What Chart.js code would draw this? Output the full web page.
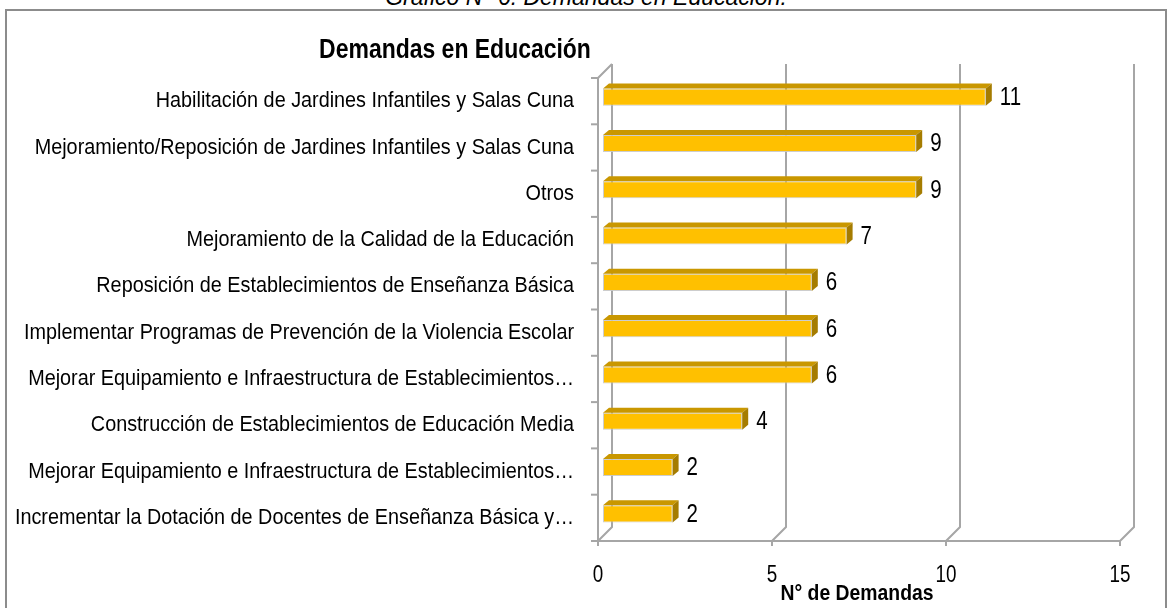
<!DOCTYPE html>
<html>
<head>
<meta charset="utf-8">
<script src="https://cdn.jsdelivr.net/npm/chart.js@4.4.1/dist/chart.umd.min.js"></script>
<style>
  html, body { margin: 0; padding: 0; background: #fff; overflow: hidden; }
  #wrap { position: relative; width: 1172px; height: 608px; }
  #caption {
    position: absolute; left: 0; width: 1172px; top: -16px; line-height: 24px;
    text-align: center; font: italic 23px "Liberation Sans", Arial, sans-serif; color: #000;
  }
  #box {
    position: absolute; left: 5px; top: 9px; width: 1162px; height: 620px;
    border: 2px solid #8c8c8c; box-sizing: border-box;
  }
  canvas { position: absolute; left: 0; top: 0; }
</style>
</head>
<body>
<div id="wrap">
  <div id="caption">Gráfico N° 6: Demandas en Educación.</div>
  <div id="box"></div>
  <canvas id="chart" width="1172" height="608"></canvas>
</div>
<script>
const chartTitle = 'Demandas en Educación';
const axisTitle = 'N° de Demandas';
const categories = [
  'Habilitación de Jardines Infantiles y Salas Cuna',
  'Mejoramiento/Reposición de Jardines Infantiles y Salas Cuna',
  'Otros',
  'Mejoramiento de la Calidad de la Educación',
  'Reposición de Establecimientos de Enseñanza Básica',
  'Implementar Programas de Prevención de la Violencia Escolar',
  'Mejorar Equipamiento e Infraestructura de Establecimientos…',
  'Construcción de Establecimientos de Educación Media',
  'Mejorar Equipamiento e Infraestructura de Establecimientos…',
  'Incrementar la Dotación de Docentes de Enseñanza Básica y…'
];
const demandas = [11, 9, 9, 7, 6, 6, 6, 4, 2, 2];
const xTicks = [0, 5, 10, 15];

// no narrow font installed, so Arial-metric text is squeezed horizontally
const FONT = '"Liberation Sans", Arial, sans-serif';
const WALL = 14;           // depth of the back wall
const BAR_SHIFT = [5, -4]; // bars sit a little inside the wall
const BAR_DEPTH = [6, -5];

function narrowText(ctx, text, x, y, font, align, baseline, squeeze) {
  ctx.save();
  ctx.font = font;
  ctx.textAlign = align;
  ctx.textBaseline = baseline;
  ctx.fillStyle = '#000';
  ctx.translate(x, y);
  ctx.scale(squeeze || 0.82, 1);
  ctx.fillText(text, 0, 0);
  ctx.restore();
}

const frame3d = {
  id: 'frame3d',
  beforeDatasetsDraw(chart) {
    const { ctx, chartArea: a, scales: { x, y } } = chart;
    ctx.save();
    ctx.strokeStyle = '#a6a6a6';
    ctx.lineWidth = 2;
    xTicks.forEach(v => {
      const px = x.getPixelForValue(v);
      ctx.beginPath();
      ctx.moveTo(px, a.bottom);
      ctx.lineTo(px + WALL, a.bottom - WALL);
      ctx.lineTo(px + WALL, a.top - WALL);
      ctx.stroke();
      ctx.beginPath();
      ctx.moveTo(px, a.bottom);
      ctx.lineTo(px, a.bottom + 5);
      ctx.stroke();
    });
    ctx.beginPath();
    ctx.moveTo(a.left + WALL, a.top - WALL);
    ctx.lineTo(a.left, a.top);
    ctx.lineTo(a.left, a.bottom);
    ctx.lineTo(a.right, a.bottom);
    ctx.stroke();
    const n = categories.length;
    for (let i = 0; i <= n; i++) {
      const yy = a.top + i * a.height / n;
      ctx.beginPath();
      ctx.moveTo(a.left - 7, yy);
      ctx.lineTo(a.left, yy);
      ctx.stroke();
    }
    ctx.restore();

    categories.forEach((c, i) => {
      narrowText(ctx, c, a.left - 24, y.getPixelForTick(i), '22px ' + FONT, 'right', 'middle', 0.9);
    });
    xTicks.forEach(v => {
      narrowText(ctx, String(v), x.getPixelForValue(v), 582, '23px ' + FONT, 'center', 'alphabetic');
    });
    narrowText(ctx, chartTitle, 455, 58, 'bold 28px ' + FONT, 'center', 'alphabetic');
    narrowText(ctx, axisTitle, (a.left + a.right) / 2 - 2, 600, 'bold 22px ' + FONT, 'center', 'alphabetic', 0.88);
  },
  beforeDatasetDraw(chart) {
    chart.ctx.save();
    chart.ctx.translate(BAR_SHIFT[0], BAR_SHIFT[1]);
  },
  afterDatasetDraw(chart, args) {
    const ctx = chart.ctx;
    const [dx, dy] = BAR_DEPTH;
    args.meta.data.forEach((bar, i) => {
      const { x, y, base, height } = bar.getProps(['x', 'y', 'base', 'height'], true);
      const top = y - height / 2, bot = y + height / 2;
      ctx.fillStyle = '#c99700';
      ctx.beginPath();
      ctx.moveTo(base, top);
      ctx.lineTo(base + dx, top + dy);
      ctx.lineTo(x + dx, top + dy);
      ctx.lineTo(x, top);
      ctx.closePath();
      ctx.fill();
      ctx.fillStyle = '#a57c00';
      ctx.beginPath();
      ctx.moveTo(x, top);
      ctx.lineTo(x + dx, top + dy);
      ctx.lineTo(x + dx, bot + dy);
      ctx.lineTo(x, bot);
      ctx.closePath();
      ctx.fill();
      narrowText(ctx, String(demandas[i]), x + dx + 8, y + 1, '25px ' + FONT, 'left', 'middle');
    });
    ctx.restore();
  }
};

new Chart(document.getElementById('chart'), {
  type: 'bar',
  data: {
    labels: categories,
    datasets: [{
      label: axisTitle,
      data: demandas,
      backgroundColor: '#ffc000',
      borderColor: 'rgba(200,200,200,0.9)',
      borderWidth: 1,
      borderSkipped: false,
      categoryPercentage: 1,
      barPercentage: 0.37
    }]
  },
  options: {
    indexAxis: 'y',
    responsive: false,
    animation: false,
    layout: { padding: { top: 78, right: 52, bottom: 67, left: 0 } },
    plugins: { legend: { display: false }, title: { display: false }, tooltip: { enabled: false } },
    scales: {
      x: {
        min: 0, max: 15,
        ticks: { display: false, stepSize: 5 },
        grid: { display: false, drawTicks: false },
        border: { display: false }
      },
      y: {
        ticks: { display: false },
        grid: { display: false, drawTicks: false },
        border: { display: false },
        afterFit(scale) { scale.width = 598; }
      }
    }
  },
  plugins: [frame3d]
});
</script>
</body>
</html>
